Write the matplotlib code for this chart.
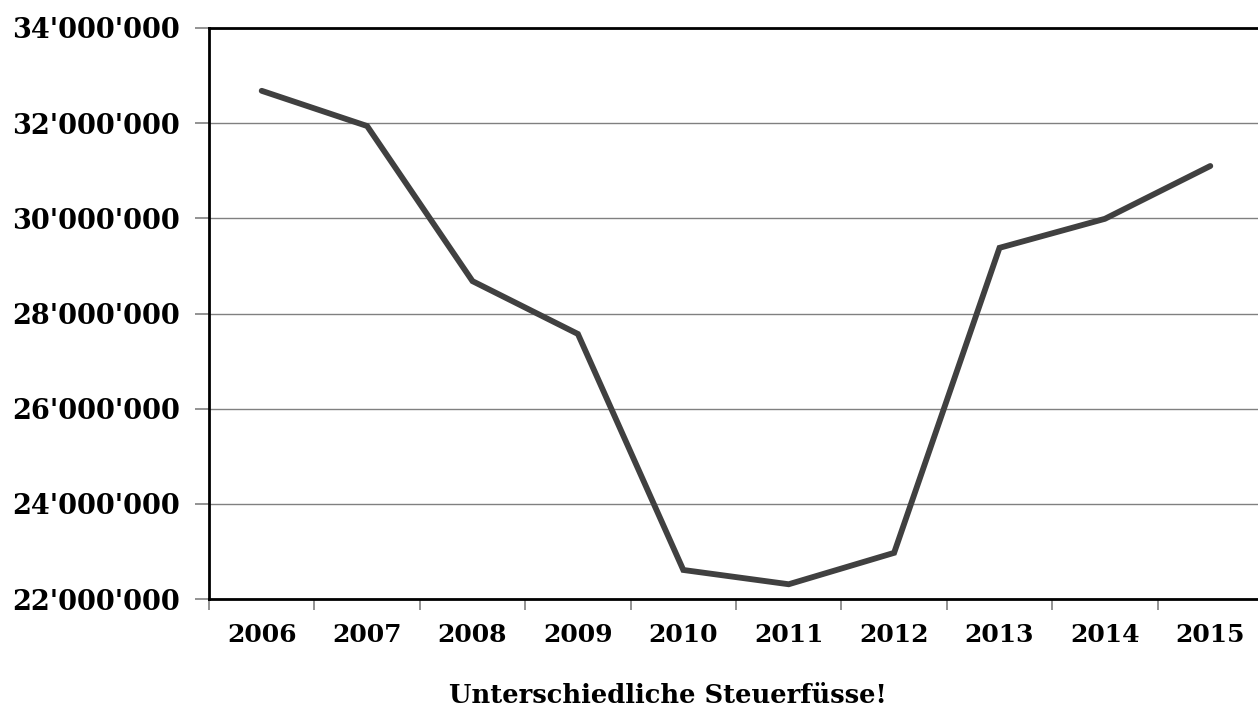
import matplotlib
matplotlib.use("Agg")
import matplotlib.pyplot as plt
from matplotlib.ticker import FuncFormatter, MultipleLocator

years = ["2006", "2007", "2008", "2009", "2010", "2011", "2012", "2013", "2014", "2015"]
revenue = [32680000, 31940000, 28680000, 27570000, 22610000,
           22310000, 22970000, 29380000, 29990000, 31100000]
title = "Unterschiedliche Steuerfüsse!"

W, H = 1258, 707
fig = plt.figure(figsize=(W / 100, H / 100), dpi=100)
left, right, top, bottom = 209, 1263, 28, 599
ax = fig.add_axes([left / W, 1 - bottom / H, (right - left) / W, (bottom - top) / H])

font = {"family": "DejaVu Serif", "weight": "bold"}

x = list(range(len(years)))
ax.plot(x, revenue, color="#404040", linewidth=4.2, solid_joinstyle="miter",
        solid_capstyle="round", zorder=3)

ax.set_xlim(-0.5, len(years) - 0.5)
ax.set_ylim(22000000, 34000000)
ax.yaxis.set_major_locator(MultipleLocator(2000000))
ax.yaxis.set_major_formatter(FuncFormatter(lambda v, p: f"{int(v):,}".replace(",", "'")))
ax.grid(axis="y", color="#808080", linewidth=1.0, zorder=1)

# category boundaries carry the tick marks, labels sit in between
ax.set_xticks([i - 0.5 for i in range(len(years) + 1)])
ax.set_xticklabels([])
ax.set_xticks(x, minor=True)
ax.set_xticklabels(years, minor=True, fontsize=18, **font)
ax.tick_params(axis="x", which="minor", length=0, pad=17)
ax.tick_params(axis="x", which="major", length=8, width=1.2, color="#808080")
ax.tick_params(axis="y", length=10, width=1.2, color="#808080", pad=11, labelsize=19.5)
for lbl in ax.get_yticklabels():
    lbl.set_fontfamily("DejaVu Serif")
    lbl.set_fontweight("bold")

for side in ["left", "bottom", "top"]:
    ax.spines[side].set_color("black")
    ax.spines[side].set_linewidth(2)
ax.spines["right"].set_visible(False)

fig.text(668 / W, 1 - 703 / H, title, ha="center", va="baseline", fontsize=18.5, **font)

fig.savefig("out.png", dpi=100)
